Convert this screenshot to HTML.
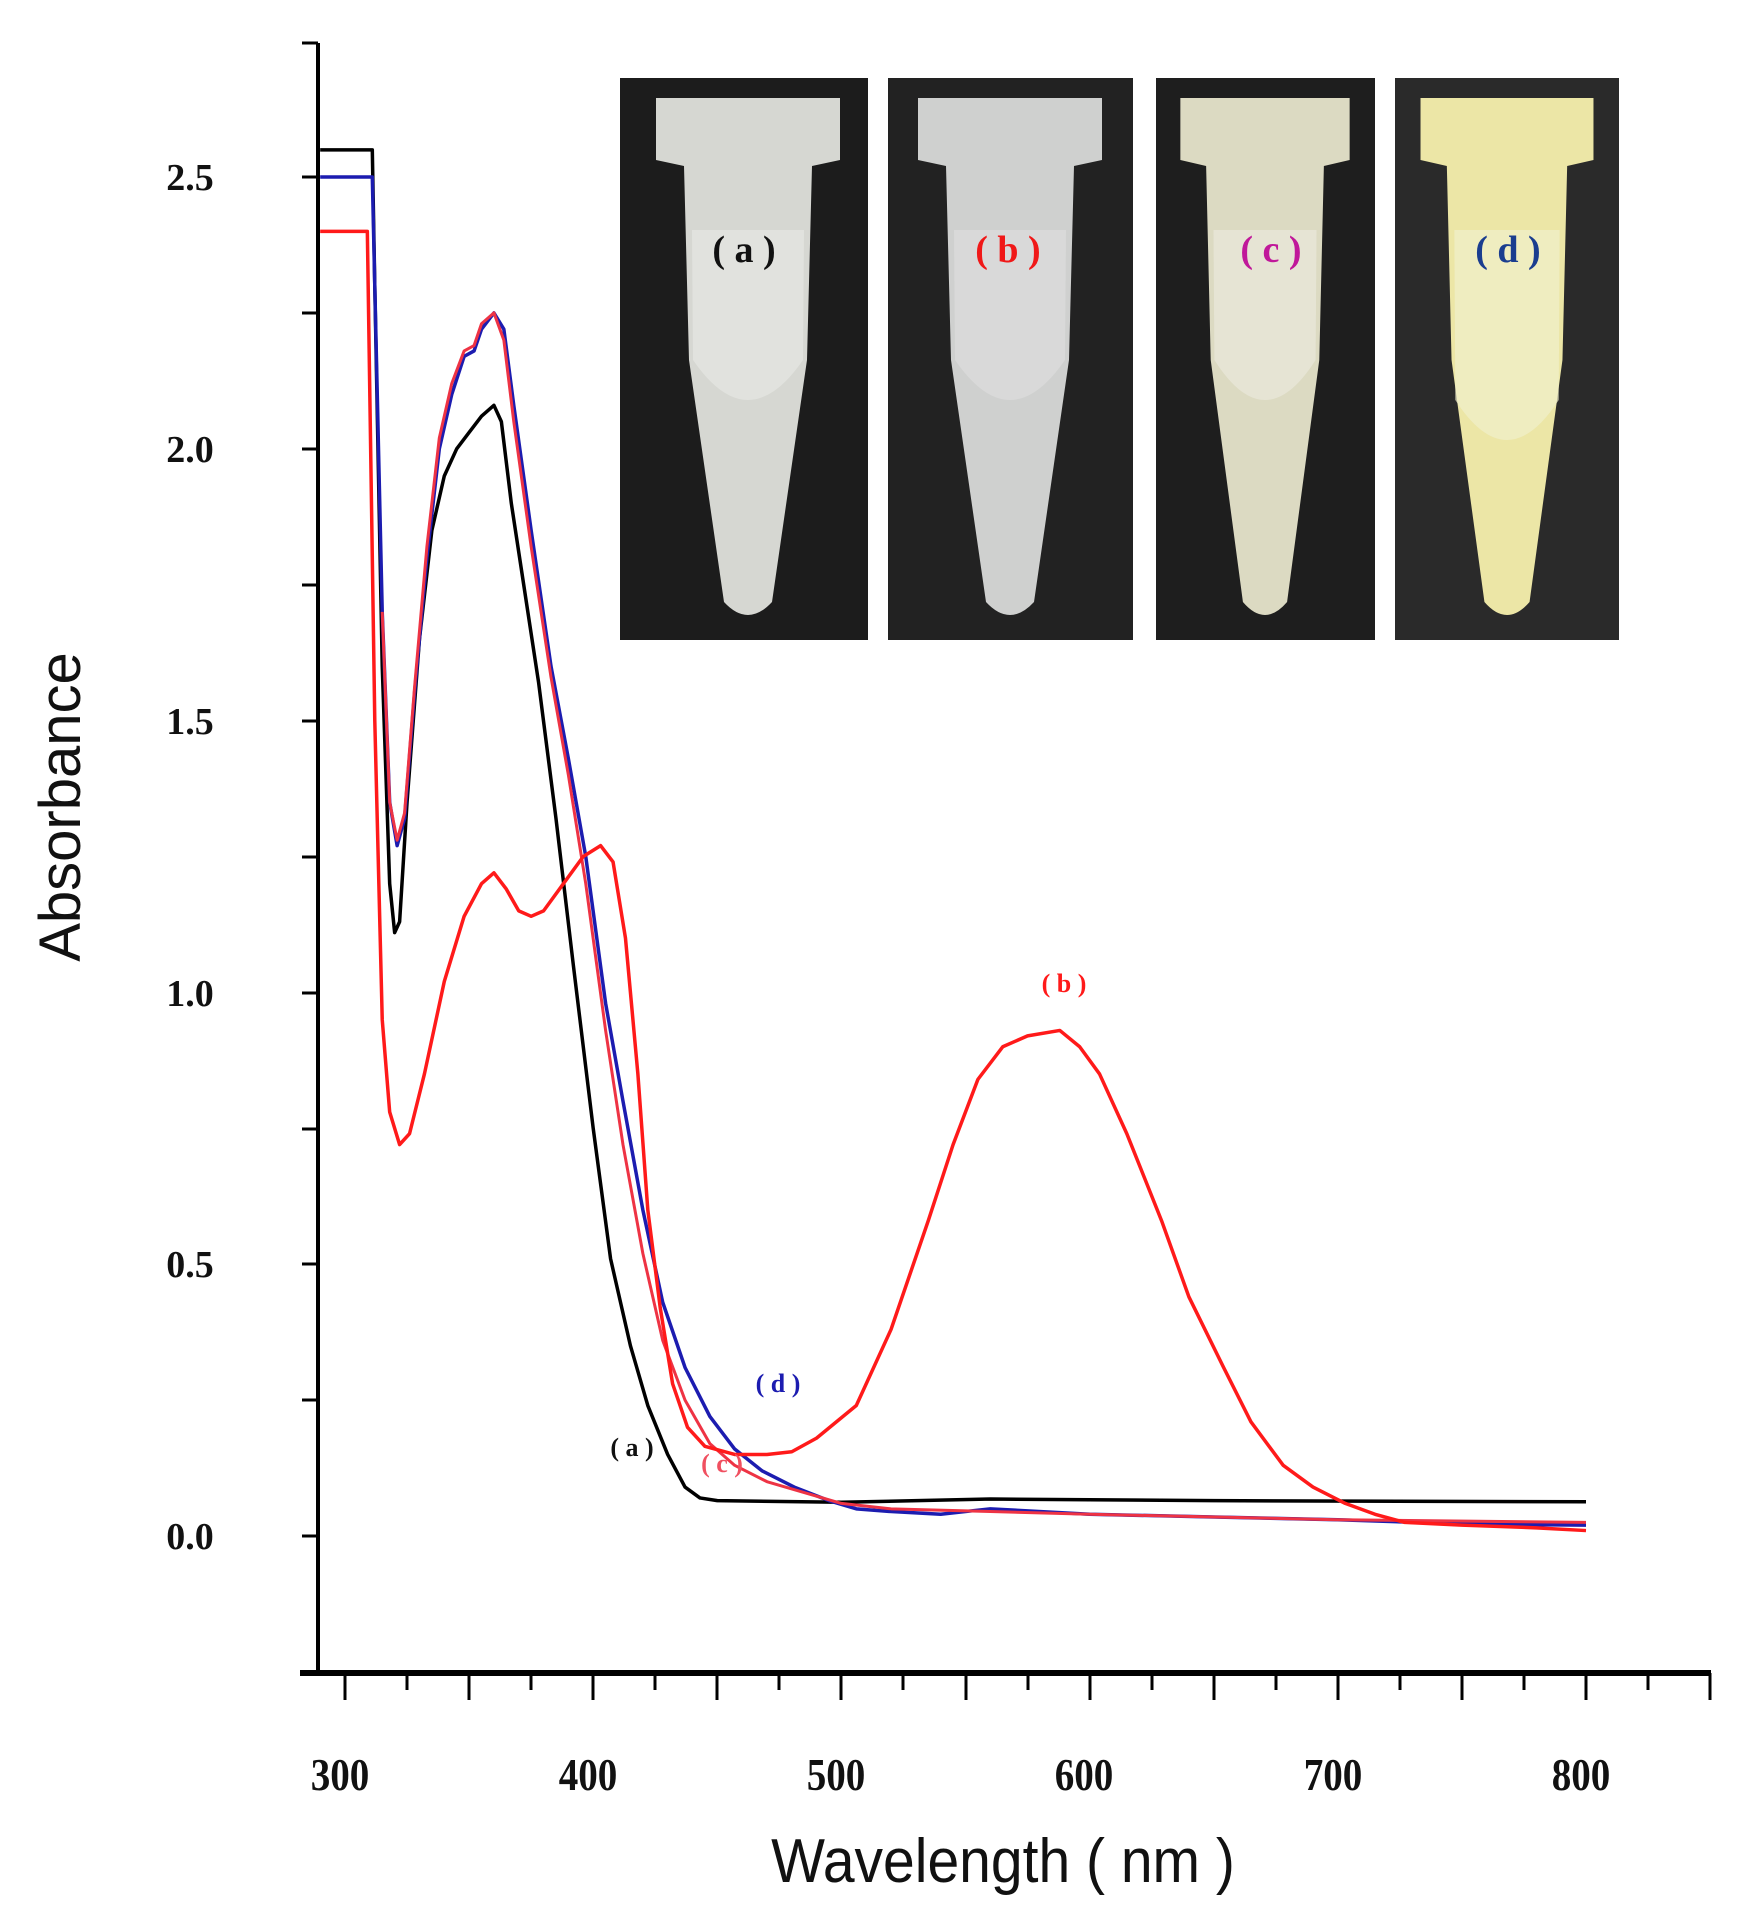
<!DOCTYPE html>
<html><head><meta charset="utf-8"><style>
html,body{margin:0;padding:0;background:#fff}
svg{display:block}
.tl{font-family:"Liberation Serif",serif;font-weight:bold}
</style></head><body>
<svg width="1739" height="1921" viewBox="0 0 1739 1921" xmlns="http://www.w3.org/2000/svg">
<defs>
<path id="tube" d="M-92,98 L92,98 L92,160 L64,166 L59,360 L24,602 Q0,628 -24,602 L-59,360 L-64,166 L-92,160 Z"/>
</defs>
<!-- photos -->
<rect x="620" y="78" width="248" height="562" fill="#1c1c1c"/>
<rect x="888" y="78" width="245" height="562" fill="#222"/>
<rect x="1156" y="78" width="219" height="562" fill="#1e1e1e"/>
<rect x="1395" y="78" width="224" height="562" fill="#2a2a2a"/>
<g transform="translate(748,0)"><use href="#tube" fill="#d6d7d2"/><path d="M-56,230 L56,230 L55,360 Q0,440 -55,360Z" fill="#e6e7e2" opacity="0.7"/></g>
<g transform="translate(1010,0)"><use href="#tube" fill="#cfd0cf"/><path d="M-56,230 L56,230 L55,360 Q0,440 -55,360Z" fill="#e0e0e0" opacity="0.6"/></g>
<g transform="translate(1265,0) scale(0.92,1)"><use href="#tube" fill="#dcdac2"/><path d="M-56,230 L56,230 L55,360 Q0,440 -55,360Z" fill="#e9e8dc" opacity="0.7"/></g>
<g transform="translate(1507,0) scale(0.94,1)"><use href="#tube" fill="#ece6a6"/><path d="M-56,230 L56,230 L55,400 Q0,480 -55,400Z" fill="#f1efcc" opacity="0.7"/></g>
<text class="tl" x="744" y="262" font-size="38" text-anchor="middle" fill="#111">( a )</text>
<text class="tl" x="1008" y="262" font-size="38" text-anchor="middle" fill="#f01818">( b )</text>
<text class="tl" x="1271" y="262" font-size="38" text-anchor="middle" fill="#c0189a">( c )</text>
<text class="tl" x="1508" y="262" font-size="38" text-anchor="middle" fill="#1a3d8f">( d )</text>

<!-- axes -->
<line x1="318" y1="43" x2="318" y2="1675" stroke="#000" stroke-width="4"/>
<line x1="300" y1="1673" x2="1711" y2="1673" stroke="#000" stroke-width="6"/>
<g stroke="#000" stroke-width="3">
<line x1="345" y1="1673" x2="345" y2="1700"/><line x1="407" y1="1673" x2="407" y2="1690"/>
<line x1="469" y1="1673" x2="469" y2="1700"/><line x1="531" y1="1673" x2="531" y2="1690"/>
<line x1="593" y1="1673" x2="593" y2="1700"/><line x1="655" y1="1673" x2="655" y2="1690"/>
<line x1="717" y1="1673" x2="717" y2="1700"/><line x1="779" y1="1673" x2="779" y2="1690"/>
<line x1="841" y1="1673" x2="841" y2="1700"/><line x1="903" y1="1673" x2="903" y2="1690"/>
<line x1="966" y1="1673" x2="966" y2="1700"/><line x1="1028" y1="1673" x2="1028" y2="1690"/>
<line x1="1090" y1="1673" x2="1090" y2="1700"/><line x1="1152" y1="1673" x2="1152" y2="1690"/>
<line x1="1214" y1="1673" x2="1214" y2="1700"/><line x1="1276" y1="1673" x2="1276" y2="1690"/>
<line x1="1338" y1="1673" x2="1338" y2="1700"/><line x1="1400" y1="1673" x2="1400" y2="1690"/>
<line x1="1462" y1="1673" x2="1462" y2="1700"/><line x1="1524" y1="1673" x2="1524" y2="1690"/>
<line x1="1586" y1="1673" x2="1586" y2="1700"/><line x1="1648" y1="1673" x2="1648" y2="1690"/>
<line x1="1710" y1="1673" x2="1710" y2="1700"/>
<line x1="302" y1="1672" x2="318" y2="1672"/><line x1="302" y1="1536" x2="318" y2="1536"/>
<line x1="302" y1="1400" x2="318" y2="1400"/><line x1="302" y1="1264" x2="318" y2="1264"/>
<line x1="302" y1="1129" x2="318" y2="1129"/><line x1="302" y1="993" x2="318" y2="993"/>
<line x1="302" y1="857" x2="318" y2="857"/><line x1="302" y1="721" x2="318" y2="721"/>
<line x1="302" y1="585" x2="318" y2="585"/><line x1="302" y1="449" x2="318" y2="449"/>
<line x1="302" y1="313" x2="318" y2="313"/><line x1="302" y1="177" x2="318" y2="177"/>
<line x1="302" y1="43" x2="318" y2="43"/>
</g>
<g font-family="Liberation Serif,serif" font-weight="bold" font-size="38" text-anchor="middle" fill="#111">
<text x="190" y="1549">0.0</text><text x="190" y="1277">0.5</text><text x="190" y="1006">1.0</text>
<text x="190" y="734">1.5</text><text x="190" y="462">2.0</text><text x="190" y="190">2.5</text>
</g>
<g font-family="Liberation Serif,serif" font-weight="bold" font-size="46" text-anchor="middle" fill="#111">
<text transform="translate(340,1790) scale(0.85,1)">300</text>
<text transform="translate(588,1790) scale(0.85,1)">400</text>
<text transform="translate(836,1790) scale(0.85,1)">500</text>
<text transform="translate(1084,1790) scale(0.85,1)">600</text>
<text transform="translate(1333,1790) scale(0.85,1)">700</text>
<text transform="translate(1581,1790) scale(0.85,1)">800</text>
</g>
<text transform="translate(80,807) rotate(-90)" font-family="Liberation Sans,sans-serif" font-size="58" text-anchor="middle" fill="#111">Absorbance</text>
<text transform="translate(1003,1882) scale(0.92,1)" font-family="Liberation Sans,sans-serif" font-size="62" text-anchor="middle" fill="#111">Wavelength ( nm )</text>

<!-- curves -->
<g transform="matrix(2.482,0,0,-543.6,-399.6,1536)" fill="none" stroke-linejoin="round">
<polyline vector-effect="non-scaling-stroke" stroke="#000" stroke-width="3.5" points="290,2.55 311,2.55 312,2.3 315,1.6 318,1.2 320,1.11 322,1.13 325,1.35 330,1.65 335,1.85 340,1.95 345,2.0 350,2.03 355,2.06 360,2.08 363,2.05 367,1.9 372,1.75 378,1.57 385,1.32 392,1.05 400,0.75 407,0.51 415,0.35 422,0.24 430,0.15 437,0.09 443,0.07 450,0.065 500,0.062 560,0.068 650,0.065 800,0.063"/>
<polyline vector-effect="non-scaling-stroke" stroke="#1c1cb0" stroke-width="3.5" points="290,2.5 311,2.5 312,2.3 315,1.7 318,1.35 321,1.27 324,1.32 328,1.55 333,1.8 338,2.0 343,2.1 348,2.17 352,2.18 355,2.22 360,2.25 364,2.22 368,2.08 375,1.85 383,1.6 390,1.43 397,1.25 405,0.98 412,0.8 420,0.6 428,0.43 437,0.31 447,0.22 457,0.16 468,0.12 481,0.09 495,0.065 506,0.05 520,0.045 540,0.04 560,0.05 600,0.04 650,0.035 700,0.03 750,0.022 800,0.02"/>
<polyline vector-effect="non-scaling-stroke" stroke="#ee3344" stroke-width="3" points="315,1.7 318,1.35 321,1.28 324,1.33 328,1.56 333,1.82 338,2.02 343,2.12 348,2.18 352,2.19 355,2.23 360,2.25 364,2.2 368,2.05 375,1.82 383,1.58 390,1.4 397,1.2 405,0.93 412,0.72 420,0.52 428,0.36 437,0.25 447,0.17 457,0.13 470,0.1 485,0.08 500,0.06 520,0.05 560,0.045 600,0.04 700,0.03 800,0.025"/>
<polyline vector-effect="non-scaling-stroke" stroke="#ff1a1a" stroke-width="3.5" points="290,2.4 309,2.4 310,2.1 312,1.5 315,0.95 318,0.78 322,0.72 326,0.74 332,0.85 340,1.02 348,1.14 355,1.2 360,1.22 365,1.19 370,1.15 375,1.14 380,1.15 388,1.2 396,1.25 403,1.27 408,1.24 413,1.1 418,0.85 422,0.6 427,0.42 432,0.28 438,0.2 445,0.165 457,0.15 470,0.15 480,0.155 490,0.18 506,0.24 520,0.38 535,0.58 545,0.72 555,0.84 565,0.9 575,0.92 588,0.93 596,0.9 604,0.85 615,0.74 629,0.58 640,0.44 654,0.31 665,0.21 678,0.13 690,0.09 703,0.06 715,0.04 727,0.025 750,0.02 780,0.015 800,0.01"/>
</g>
<g class="tl" font-size="26" text-anchor="middle">
<text x="632" y="1456" fill="#111">( a )</text>
<text x="722" y="1472" fill="#f05060">( c )</text>
<text x="778" y="1392" fill="#1c1cb0">( d )</text>
<text x="1064" y="992" fill="#ff1a1a">( b )</text>
</g>
</svg>
</body></html>
